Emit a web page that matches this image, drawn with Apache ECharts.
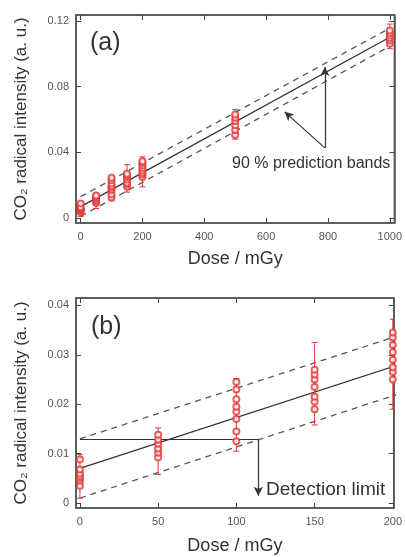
<!DOCTYPE html>
<html>
<head>
<meta charset="utf-8">
<script src="https://cdn.jsdelivr.net/npm/echarts@6/dist/echarts.min.js"></script>
<style>
  html, body { margin: 0; padding: 0; background: #fff; }
  #chart { width: 405px; height: 557px; }
</style>
</head>
<body>
<div id="chart"></div>
<script>
// doses (mGy) and the measured intensities at each dose
var doses = [0, 50, 100, 150, 200, 500, 1000];
var pts0 = [0.0035, 0.0045, 0.005, 0.0055, 0.006, 0.0068, 0.0088];
var pts50 = [0.0092, 0.0102, 0.011, 0.012, 0.0128, 0.0138];
var pts100 = [0.0125, 0.0145, 0.017, 0.0185, 0.0195, 0.021, 0.023, 0.0245];
var pts150 = [0.019, 0.0205, 0.0215, 0.0235, 0.025, 0.026, 0.027];
var pts200 = [0.025, 0.0265, 0.0275, 0.029, 0.0305, 0.032, 0.0335, 0.0345];
var pts500 = [0.0505, 0.0535, 0.0565, 0.059, 0.061, 0.063];
var pts1000 = [0.106, 0.108, 0.1095, 0.111, 0.1125, 0.114];
// error bar range per dose
var barLow = [0.001, 0.0058, 0.0105, 0.0158, 0.019, 0.048, 0.103];
var barHigh = [0.0098, 0.0152, 0.0252, 0.0325, 0.0372, 0.066, 0.118];
// fit line and 90 % prediction bands (end points)
var fitLine = [[0, 0.007], [1000, 0.110]];
var bandUpper = [[0, 0.013], [1000, 0.1155]];
var bandLower = [[0, 0.001], [1000, 0.1045]];
// detection limit level and dose
var detLevel = 0.013;
var detDose = 114;
// tick labels
var xTicksA = [0, 200, 400, 600, 800, 1000];
var yTicksA = [0, 0.04, 0.08, 0.12];
var xTicksB = [0, 50, 100, 150, 200];
var yTicksB = [0, 0.01, 0.02, 0.03, 0.04];

var myChart = echarts.init(document.getElementById('chart'));

var allPts = [pts0, pts50, pts100, pts150, pts200, pts500, pts1000];
var scatterData = [];
for (var i = 0; i < doses.length; i++) {
    for (var j = 0; j < allPts[i].length; j++) {
        scatterData.push([doses[i], allPts[i][j]]);
    }
}
var barData = [];
for (var i = 0; i < doses.length; i++) {
    barData.push([doses[i], barLow[i], barHigh[i]]);
}

var red = '#e0383a';
var ink = '#333';
var font = 'Liberation Sans, Arial, sans-serif';

function errBar(params, api) {
    var x = api.value(0);
    var lo = api.coord([x, api.value(1)]);
    var hi = api.coord([x, api.value(2)]);
    var w = 3;
    var st = { stroke: red, lineWidth: 1 };
    return {
        type: 'group',
        children: [
            { type: 'line', shape: { x1: lo[0], y1: lo[1], x2: hi[0], y2: hi[1] }, style: st },
            { type: 'line', shape: { x1: lo[0] - w, y1: lo[1], x2: lo[0] + w, y2: lo[1] }, style: st },
            { type: 'line', shape: { x1: hi[0] - w, y1: hi[1], x2: hi[0] + w, y2: hi[1] }, style: st }
        ]
    };
}

function xAx(gi, min, max, ticks, pos, show, gap) {
    return {
        type: 'value', gridIndex: gi, min: min, max: max, position: pos,
        name: show ? 'Dose / mGy' : '', nameLocation: 'middle', nameGap: gap || 26,
        nameTextStyle: { fontSize: 18, color: ink, fontFamily: font },
        axisLine: { show: true, onZero: false, lineStyle: { color: '#555', width: 1.5 } },
        axisTick: { show: true, inside: true, length: 5, customValues: ticks, lineStyle: { color: '#444' } },
        axisLabel: {
            show: show, customValues: ticks, fontSize: 11, color: '#555', margin: 8, fontFamily: font,
            formatter: function (v) { return String(v); }
        },
        splitLine: { show: false }
    };
}
function yAx(gi, min, max, ticks, pos, show) {
    return {
        type: 'value', gridIndex: gi, min: min, max: max, position: pos,
        name: show ? 'CO\u2082 radical intensity (a. u.)' : '', nameLocation: 'middle', nameGap: 46,
        nameTextStyle: { fontSize: 17, color: ink, fontFamily: font },
        axisLine: { show: true, onZero: false, lineStyle: { color: '#555', width: 1.5 } },
        axisTick: { show: true, inside: true, length: 5, customValues: ticks, lineStyle: { color: '#444' } },
        axisLabel: {
            show: show, customValues: ticks, fontSize: 11, color: '#555', margin: 7, fontFamily: font,
            formatter: function (v) { return String(v); }
        },
        splitLine: { show: false }
    };
}

function arrowLine(from, to) {
    return [{ coord: from }, { coord: to }];
}

function panelSeries(xi, yi, notes) {
    return [
        {
            type: 'line', xAxisIndex: xi, yAxisIndex: yi, data: bandUpper, symbol: 'none', clip: true,
            lineStyle: { color: '#555', width: 1.3, type: [6, 5] }, silent: true, z: 2
        },
        {
            type: 'line', xAxisIndex: xi, yAxisIndex: yi, data: bandLower, symbol: 'none', clip: true,
            lineStyle: { color: '#555', width: 1.3, type: [6, 5] }, silent: true, z: 2
        },
        {
            type: 'line', xAxisIndex: xi, yAxisIndex: yi, data: fitLine, symbol: 'none', clip: true,
            lineStyle: { color: ink, width: 1.3 }, silent: true, z: 3,
            markLine: {
                silent: true, animation: false, symbol: ['none', 'arrow'], symbolSize: [7, 9],
                label: { show: false },
                lineStyle: { color: ink, width: 1.2, type: 'solid' },
                data: notes
            }
        },
        {
            type: 'custom', xAxisIndex: xi, yAxisIndex: yi, data: barData, renderItem: errBar, clip: true, z: 4
        },
        {
            type: 'scatter', xAxisIndex: xi, yAxisIndex: yi, data: scatterData, symbol: 'emptyCircle',
            symbolSize: 6, clip: true, itemStyle: { color: red, borderColor: red, borderWidth: 1.1 }, z: 5
        }
    ];
}

var notesA = [
    arrowLine([790, 0.0427], [790, 0.0918]),
    arrowLine([790, 0.0427], [660, 0.0646])
];
var notesB = [
    [{ coord: [0, detLevel], symbol: 'none' }, { coord: [detDose, detLevel], symbol: 'none' }],
    arrowLine([detDose, detLevel], [detDose, 0.0015])
];

option = {
    backgroundColor: '#fff',
    animation: false,
    grid: [
        { left: 76, top: 15, width: 322, height: 208, show: true, borderColor: '#555', borderWidth: 1.5 },
        { left: 76, top: 298, width: 321, height: 210, show: true, borderColor: '#555', borderWidth: 1.5 }
    ],
    xAxis: [
        xAx(0, -15, 1015, xTicksA, 'bottom', true, 27),
        xAx(0, -15, 1015, xTicksA, 'top', false),
        xAx(1, -2.5, 200.6, xTicksB, 'bottom', true, 29),
        xAx(1, -2.5, 200.6, xTicksB, 'top', false)
    ],
    yAxis: [
        yAx(0, -0.003, 0.1235, yTicksA, 'left', true),
        yAx(0, -0.003, 0.1235, yTicksA, 'right', false),
        yAx(1, -0.001, 0.0415, yTicksB, 'left', true),
        yAx(1, -0.001, 0.0415, yTicksB, 'right', false)
    ],
    series: panelSeries(0, 0, notesA).concat(panelSeries(2, 2, notesB)),
    graphic: [
        { type: 'text', left: 90, top: 31, style: { text: '(a)', fontSize: 25, fill: ink, fontFamily: font } },
        { type: 'text', left: 232, top: 156, style: { text: '90 % prediction bands', fontSize: 16, fill: ink, fontFamily: font } },
        { type: 'text', left: 91, top: 315, style: { text: '(b)', fontSize: 25, fill: ink, fontFamily: font } },
        { type: 'text', left: 266, top: 480, style: { text: 'Detection limit', fontSize: 19, fill: ink, fontFamily: font } }
    ]
};

myChart.setOption(option);
</script>
</body>
</html>
